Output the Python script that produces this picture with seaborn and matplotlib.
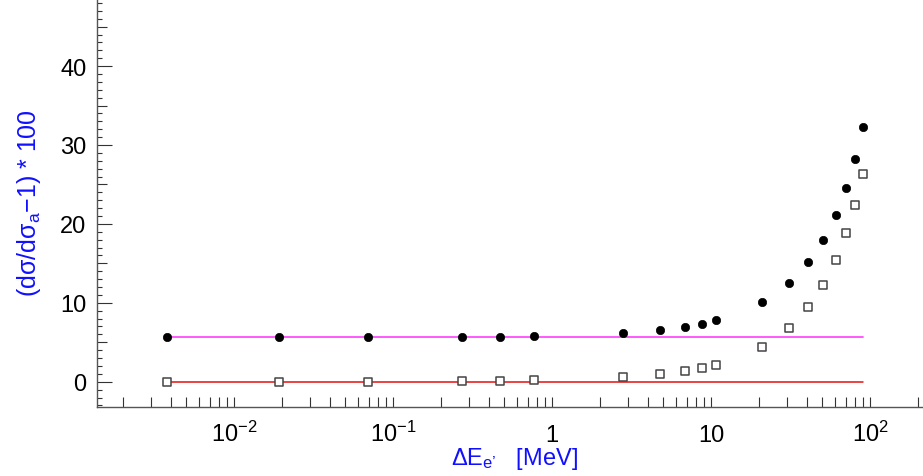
import numpy as np
import pandas as pd
import matplotlib
matplotlib.use("Agg")
import matplotlib.pyplot as plt
from matplotlib.ticker import FixedLocator, FixedFormatter, MultipleLocator, LogLocator, NullFormatter
import seaborn as sns

# Energy cut values [MeV]
delta_e = [0.0038, 0.019, 0.069, 0.27, 0.47, 0.77, 2.8, 4.8, 6.8, 8.8, 10.8,
           20.8, 30.8, 40.8, 50.8, 60.8, 70.8, 80.8, 90.8]
# Relative correction (dσ/dσ_a - 1) * 100
corr_full = [5.63, 5.63, 5.63, 5.65, 5.70, 5.80, 6.13, 6.60, 6.97, 7.35, 7.82,
             10.06, 12.47, 15.13, 18.0, 21.17, 24.6, 28.27, 32.28]
corr_soft = [0.0, 0.0, 0.0, 0.05, 0.13, 0.18, 0.55, 0.93, 1.31, 1.78, 2.16,
             4.4, 6.8, 9.47, 12.3, 15.42, 18.8, 22.4, 26.3]
# Reference levels
level_upper = 5.63
level_lower = 0.0

x_tick_values = [1e-2, 1e-1, 1, 10, 100]
x_tick_labels = [r"$\mathregular{10^{-2}}$", r"$\mathregular{10^{-1}}$", "1", "10",
                 r"$\mathregular{10^{2}}$"]
y_tick_values = [0, 10, 20, 30, 40]

sns.set_theme(style="ticks")
plt.rcParams["font.family"] = ["Liberation Sans", "DejaVu Sans"]
plt.rcParams["mathtext.fontset"] = "custom"
plt.rcParams["mathtext.rm"] = "Liberation Sans"
plt.rcParams["mathtext.it"] = "Liberation Sans:italic"
plt.rcParams["mathtext.sf"] = "Liberation Sans"

fig = plt.figure(figsize=(9.23, 4.77), dpi=100)
ax = fig.add_axes([97 / 923, 68.7 / 477, 826 / 923, 408.3 / 477])

df = pd.DataFrame({"dE": delta_e, "full": corr_full, "soft": corr_soft})
span = [delta_e[0], delta_e[-1]]

sns.lineplot(x=span, y=[level_upper, level_upper], color="#ff4dff", linewidth=1.3, ax=ax)
sns.lineplot(x=span, y=[level_lower, level_lower], color="#e61010", linewidth=1.1, ax=ax)

sns.scatterplot(data=df, x="dE", y="full", marker="o", s=36, color="black",
                edgecolor="black", linewidth=0.5, ax=ax, zorder=3)
sns.scatterplot(data=df, x="dE", y="soft", marker="s", s=34, color="white",
                edgecolor="#444444", linewidth=1.1, ax=ax, zorder=3)

ax.set_xscale("log")
ax.set_xlim(1.37e-3, 215)
ax.set_ylim(-3.24, 48.5)

sns.despine(ax=ax)
for side in ("left", "bottom"):
    ax.spines[side].set_color("#555555")
    ax.spines[side].set_linewidth(1.0)

ax.xaxis.set_major_locator(FixedLocator(x_tick_values))
ax.xaxis.set_major_formatter(FixedFormatter(x_tick_labels))
ax.xaxis.set_minor_locator(LogLocator(base=10, subs=np.arange(2, 10), numticks=20))
ax.xaxis.set_minor_formatter(NullFormatter())
ax.yaxis.set_major_locator(FixedLocator(y_tick_values))
ax.yaxis.set_minor_locator(MultipleLocator(1))

ax.tick_params(axis="x", which="both", direction="in", length=7.2, width=0.8,
               color="#333333", labelsize=17, pad=24.0, labelcolor="black")
ax.tick_params(axis="y", which="major", direction="in", length=10.8, width=0.8,
               color="#333333", labelsize=17, pad=7.5, labelcolor="black")
ax.tick_params(axis="y", which="minor", direction="in", length=3.6, width=0.8,
               color="#333333")

ax.set_xlabel("ΔE$_{\\mathregular{e’}}$   [MeV]", fontsize=17, color="#1010ff")
ax.xaxis.label.set_va("baseline")
ax.xaxis.set_label_coords((514 - 97) / 826, -(465 - 408.3) / 408.3)

ax.set_ylabel(r"(dσ/dσ$_{\mathregular{a}}$−1) * 100", fontsize=18, color="#1010ff")
ax.yaxis.label.set_va("center")
ax.yaxis.set_label_coords((29 - 97) / 826, (408.3 - 203) / 408.3)

fig.canvas.draw()
# x tick labels share a common baseline
for lab in ax.get_xticklabels():
    lab.set_va("baseline")
# intermediate y ticks at multiples of five
for loc, tick in zip(ax.yaxis.get_minorticklocs(), ax.yaxis.get_minor_ticks()):
    if abs(loc % 5) < 1e-6:
        tick.tick1line.set_markersize(7.2)

fig.savefig("out.png", dpi=100, facecolor="white")
